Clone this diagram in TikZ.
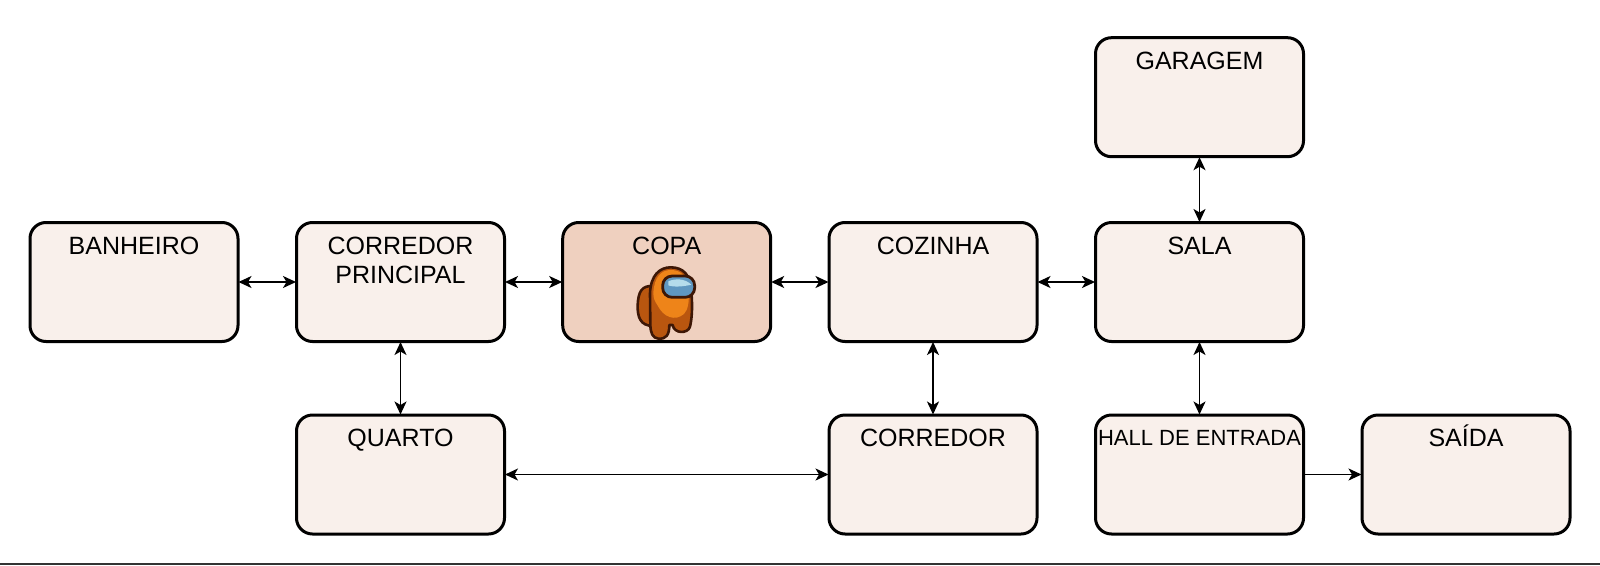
\documentclass[tikz,border=0pt]{standalone}
\usepackage{fontspec}
\setmainfont{Liberation Sans}
\usetikzlibrary{arrows.meta}
\definecolor{boxfill}{HTML}{F9F0EB}
\definecolor{copafill}{HTML}{EFD0BF}
\definecolor{suitA}{HTML}{EE8419}
\definecolor{suitB}{HTML}{B9560F}
\definecolor{suitline}{HTML}{3D1706}
\definecolor{visorA}{HTML}{5F97C0}
\definecolor{visorB}{HTML}{B5DCEB}
\tikzset{
  x=1pt,y=-1pt,
  room/.style={draw=black,line width=3pt,rounded corners=16pt,fill=boxfill,outer sep=0.5pt,
    minimum width=208pt,minimum height=119pt,inner sep=0pt,anchor=north west},
  roomtext/.style={anchor=north,inner sep=0pt,align=center,yshift=-14pt,
    font=\fontsize{25}{29.5}\selectfont},
  link/.style={line width=1.7pt,{Stealth[length=13pt,width=12pt,inset=3.5pt]}-{Stealth[length=13pt,width=12pt,inset=3.5pt]}},
  oneway/.style={line width=1.7pt,-{Stealth[length=13pt,width=12pt,inset=3.5pt]}},
  suit/.style={draw=suitline,line width=2.6pt,line join=round},
}
\newcommand{\room}[4][]{\node[room,#1] (#2) at #3 {};\node[roomtext] (#2t) at (#2.north) {\rule{0pt}{18.2pt}#4};}
\begin{document}
\begin{tikzpicture}
\useasboundingbox (0,0) rectangle (1600,565);
\fill[white] (0,0) rectangle (1600,565);
\fill[black!80] (0,563) rectangle (1600,565);
\room{garagem}{(1095,37.2)}{GARAGEM}
\room{banheiro}{(29.5,222)}{BANHEIRO}
\room{principal}{(296,222)}{CORREDOR\\PRINCIPAL}
\room[fill=copafill]{copa}{(562.2,222)}{COPA}
\room{cozinha}{(828.5,222)}{COZINHA}
\room{sala}{(1095,222)}{SALA}
\room{quarto}{(296,414.5)}{QUARTO}
\room{corredor}{(828.5,414.5)}{CORREDOR}
\room{hall}{(1095,414.5)}{}
\node[roomtext,font=\fontsize{22}{28}\selectfont,yshift=-0.5pt] (hallt) at (hall.north) {\rule{0pt}{16pt}HALL DE ENTRADA};
\room{saida}{(1361.5,414.5)}{\smash{SAÍDA}}
\draw[link] (banheiro) -- (principal);
\draw[link] (principal) -- (copa);
\draw[link] (copa) -- (cozinha);
\draw[link] (cozinha) -- (sala);
\draw[link] (garagem) -- (sala);
\draw[link] (principal) -- (quarto);
\draw[link] (cozinha) -- (corredor);
\draw[link] (sala) -- (hall);
\draw[link] (quarto) -- (corredor);
\draw[oneway] (hall) -- (saida);
% crewmate, in 3x crop coordinates
\begin{scope}[shift={(600,210)},x=0.3333pt,y=-0.3333pt]
  \draw[suit,fill=suitB] (160,228) .. controls (125,226) and (115,245) .. (113,285)
     .. controls (112,320) and (120,348) .. (160,348) -- cycle;
  \draw[suit,fill=suitB] (150,250) .. controls (152,195) and (180,172) .. (212,172)
     .. controls (250,172) and (272,195) .. (274,245)
     .. controls (278,290) and (276,325) .. (270,350)
     .. controls (264,372) and (222,372) .. (218,345)
     -- (208,345)
     .. controls (208,375) and (198,388) .. (175,386)
     .. controls (158,384) and (152,370) .. (151,345) -- cycle;
  \fill[suitA] (160,250) .. controls (162,200) and (185,180) .. (212,180)
     .. controls (245,180) and (264,200) .. (266,245)
     .. controls (268,275) and (264,300) .. (252,312)
     .. controls (225,335) and (190,322) .. (172,285)
     .. controls (165,275) and (160,265) .. (160,250) -- cycle;
  \draw[draw=suitline,line width=2.8pt,fill=visorA,rounded corners=9.5pt] (188,198) rectangle (284,262);
  \fill[visorB] (205,214) .. controls (225,205) and (255,205) .. (274,224)
     .. controls (250,230) and (220,232) .. (205,226) -- cycle;
\end{scope}
\end{tikzpicture}
\end{document}
